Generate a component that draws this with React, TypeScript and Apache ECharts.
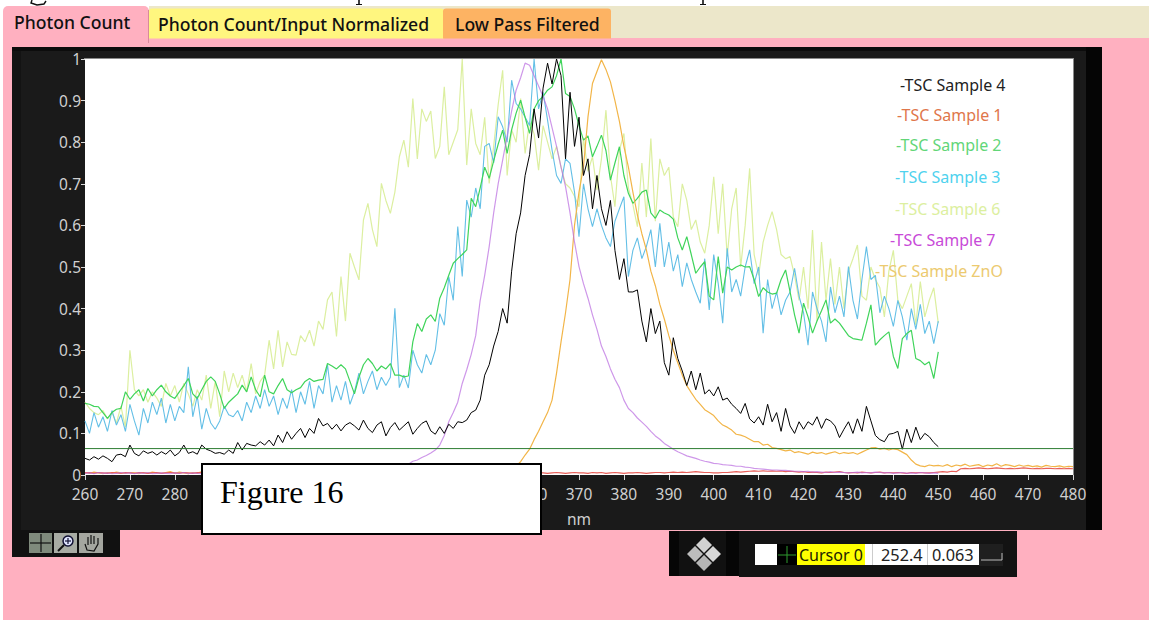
import React, { useEffect, useRef } from "react";
import * as echarts from "echarts";

const W = 1149;
const H = 620;

// Tick labels 290 to 350 are covered by the "Figure 16" box in the picture.
const xTickLabels = ["260", "270", "280", "", "", "", "", "", "", "", "360", "370", "380", "390", "400", "410", "420", "430", "440", "450", "460", "470", "480"];
const yTickLabels = ["0", "0.1", "0.2", "0.3", "0.4", "0.5", "0.6", "0.7", "0.8", "0.9", "1"];
const tabLabels = ["Photon Count", "Photon Count/Input Normalized", "Low Pass Filtered"];
const cursorValues = ["Cursor 0", "252.4", "0.063"];
const cursorLevel = 0.0635;
const startNm = 260;

// All series at 1 nm steps, beginning at 260 nm.
const sample4 = [
  .040, .036, .044, .038, .046, .040, .032, .048, .050, .044,
  .072, .052, .046, .058, .052, .056, .048, .056, .050, .060,
  .046, .054, .072, .052, .056, .050, .072, .062, .058, .052,
  .054, .050, .060, .052, .078, .060, .076, .072, .070, .080,
  .072, .084, .070, .096, .078, .104, .086, .100, .112, .090,
  .112, .100, .136, .118, .124, .110, .122, .106, .120, .126,
  .118, .108, .132, .112, .102, .120, .128, .094, .114, .126,
  .108, .118, .128, .098, .112, .124, .130, .106, .098, .116,
  .100, .122, .112, .128, .126, .132, .150, .156, .180, .240,
  .265, .310, .345, .400, .365, .490, .580, .630, .720, .770,
  .880, .810, .930, .990, .940, 1.00, .960, .760, .920, .790,
  .860, .720, .760, .640, .720, .640, .600, .660, .540, .470,
  .520, .440, .440, .445, .370, .320, .400, .340, .370, .270,
  .240, .330, .280, .250, .215, .250, .205, .245, .195, .205,
  .190, .212, .180, .185, .170, .160, .148, .172, .135, .125,
  .140, .120, .170, .128, .150, .105, .160, .118, .100, .128,
  .110, .128, .120, .140, .112, .135, .130, .118, .090, .110,
  .128, .100, .135, .105, .165, .130, .095, .085, .080, .098,
  .100, .105, .062, .110, .078, .115, .085, .100, .092, .078, .068,
];

const sample2 = [
  .172, .170, .165, .164, .150, .136, .150, .158, .160, .200,
  .182, .195, .205, .178, .208, .190, .205, .216, .200, .190,
  .184, .200, .215, .232, .195, .184, .205, .225, .236, .225,
  .195, .160, .175, .185, .195, .216, .200, .236, .205, .188,
  .240, .200, .195, .215, .232, .205, .198, .205, .210, .225,
  .232, .225, .228, .230, .268, .262, .255, .265, .255, .225,
  .195, .235, .265, .280, .268, .250, .262, .255, .268, .240,
  .240, .236, .238, .320, .364, .345, .375, .385, .369, .425,
  .450, .480, .509, .520, .530, .541, .665, .645, .690, .740,
  .713, .755, .795, .829, .773, .830, .870, .901, .860, .821,
  .880, .900, .910, .925, .933, .960, 1.00, .917, .910, .880,
  .840, .805, .815, .765, .790, .817, .780, .709, .750, .789,
  .720, .677, .653, .665, .680, .685, .630, .617, .637, .630,
  .625, .615, .570, .541, .573, .530, .485, .500, .513, .430,
  .421, .525, .437, .500, .493, .500, .505, .500, .501, .470,
  .429, .450, .440, .435, .437, .470, .493, .440, .385, .341,
  .413, .380, .341, .370, .395, .421, .365, .375, .365, .350,
  .335, .328, .326, .324, .365, .409, .312, .325, .335, .344,
  .285, .256, .328, .340, .348, .280, .275, .265, .272, .232, .296,
];

const sample3 = [
  .130, .100, .150, .115, .140, .105, .155, .120, .145, .105,
  .170, .130, .096, .160, .125, .175, .145, .185, .125, .170,
  .130, .165, .150, .260, .140, .190, .110, .160, .125, .110,
  .130, .165, .145, .140, .155, .130, .175, .150, .190, .160,
  .205, .165, .190, .145, .185, .160, .205, .150, .200, .170,
  .225, .160, .215, .195, .265, .175, .215, .180, .225, .170,
  .200, .245, .195, .225, .250, .205, .235, .215, .235, .401,
  .210, .240, .209, .300, .265, .245, .290, .265, .300, .388,
  .360, .477, .420, .597, .477, .661, .620, .690, .640, .790,
  .797, .750, .861, .837, .800, .949, .893, .880, .860, .840,
  1.00, .880, .920, .853, .781, .720, .701, .760, .749, .680,
  .573, .700, .640, .597, .640, .600, .570, .549, .610, .640,
  .669, .477, .540, .570, .520, .549, .590, .500, .605, .500,
  .560, .490, .530, .453, .510, .470, .440, .413, .520, .397,
  .530, .460, .365, .545, .440, .470, .430, .500, .541, .460,
  .500, .341, .470, .400, .440, .385, .420, .440, .497, .430,
  .390, .312, .440, .400, .370, .320, .452, .390, .430, .380,
  .501, .420, .375, .470, .549, .470, .480, .390, .430, .400,
  .357, .420, .380, .324, .400, .350, .410, .340, .370, .316, .370,
];

const sample6 = [
  .175, .160, .150, .145, .155, .135, .150, .125, .165, .115,
  .300, .205, .190, .205, .175, .200, .185, .165, .220, .190,
  .215, .175, .220, .195, .165, .205, .180, .240, .160, .225,
  .140, .250, .200, .245, .210, .240, .200, .268, .195, .225,
  .240, .324, .255, .348, .260, .320, .290, .288, .335, .320,
  .348, .310, .370, .350, .421, .440, .333, .477, .370, .533,
  .500, .469, .613, .653, .590, .549, .701, .660, .629, .680,
  .765, .805, .740, .905, .760, .880, .850, .875, .761, .790,
  .933, .770, .800, .830, 1.00, .745, .880, .797, .770, .860,
  .701, .790, .890, .973, .720, .830, .800, .905, .773, .850,
  .820, .733, .840, .800, .760, .790, .740, .700, .690, .670,
  .645, .810, .730, .765, .685, .760, .877, .720, .645, .780,
  .821, .690, .650, .597, .750, .620, .809, .610, .760, .720,
  .740, .620, .597, .700, .660, .590, .613, .560, .533, .600,
  .717, .580, .700, .525, .640, .690, .500, .600, .737, .530,
  .480, .560, .600, .633, .590, .530, .520, .525, .480, .420,
  .500, .400, .589, .370, .560, .420, .520, .410, .500, .400,
  .490, .520, .553, .430, .420, .500, .470, .450, .380, .490,
  .540, .420, .400, .430, .460, .360, .465, .380, .420, .450, .365,
];

const sample7 = [
  .004, .005, .003, .006, .004, .005, .003, .004, .006, .004,
  .005, .003, .005, .004, .006, .003, .004, .005, .004, .003,
  .005, .004, .006, .003, .005, .004, .003, .005, .004, .006,
  .003, .004, .005, .003, .004, .005, .004, .003, .005, .004,
  .003, .004, .005, .003, .004, .003, .004, .005, .003, .004,
  .003, .004, .003, .005, .003, .004, .003, .004, .003, .004,
  .003, .004, .004, .005, .005, .005, .006, .007, .010, .013,
  .016, .020, .026, .033, .036, .042, .047, .053, .060, .072,
  .095, .128, .150, .175, .220, .253, .290, .335, .420, .480,
  .549, .630, .700, .757, .815, .875, .925, .955, .990, .985,
  .960, .935, .910, .880, .835, .790, .740, .693, .630, .560,
  .501, .460, .425, .385, .350, .310, .285, .255, .230, .210,
  .180, .160, .150, .137, .127, .117, .105, .094, .086, .076,
  .069, .062, .056, .051, .046, .043, .040, .036, .033, .031,
  .028, .027, .025, .024, .023, .021, .021, .019, .018, .016,
  .015, .014, .013, .012, .012, .011, .011, .010, .009, .009,
  .008, .009, .007, .008, .007, .006, .008, .006, .007, .006,
  .005, .006, .007, .005, .006, .005, .007, .006, .005, .006,
  .004, .005, .006, .004, .005, .004, .006, .005, .004, .005, .004,
];

const sampleZnO = [
  .006, .004, .007, .005, .003, .006, .004, .007, .005, .004,
  .006, .005, .003, .006, .004, .007, .005, .004, .006, .008,
  .004, .007, .005, .003, .006, .004, .008, .005, .003, .006,
  .004, .007, .005, .004, .006, .003, .005, .004, .006, .004,
  .005, .003, .006, .004, .005, .003, .006, .004, .005, .003,
  .005, .004, .006, .003, .005, .004, .006, .003, .005, .004,
  .003, .005, .004, .006, .003, .005, .004, .003, .005, .004,
  .003, .004, .005, .003, .004, .003, .005, .004, .003, .005,
  .004, .003, .005, .004, .005, .003, .005, .004, .005, .005,
  .006, .006, .008, .010, .012, .016, .022, .032, .048, .062,
  .085, .105, .128, .150, .180, .245, .320, .390, .470, .600,
  .680, .741, .861, .941, .970, .998, .975, .945, .900, .850,
  .790, .740, .680, .625, .580, .541, .490, .455, .410, .375,
  .335, .300, .270, .240, .215, .198, .182, .170, .157, .150,
  .143, .130, .120, .115, .108, .098, .096, .092, .086, .080,
  .080, .072, .074, .066, .064, .061, .058, .060, .054, .056,
  .053, .050, .055, .052, .054, .050, .053, .056, .051, .054,
  .052, .054, .050, .055, .060, .065, .066, .062, .064, .060,
  .063, .061, .055, .049, .036, .026, .022, .020, .024, .022,
  .023, .021, .025, .020, .024, .022, .026, .021, .023, .025,
  .020, .024, .022, .027, .021, .025, .023, .020, .024, .021,
  .023, .020, .022, .019, .023, .021, .020, .022, .019, .021, .020,
];

const sample1 = [
  .005, .006, .004, .006, .005, .004, .006, .005, .004, .006,
  .005, .004, .006, .005, .004, .005, .006, .004, .005, .006,
  .005, .004, .006, .005, .004, .006, .005, .004, .005, .006,
  .005, .004, .005, .006, .004, .005, .006, .005, .004, .005,
  .005, .004, .006, .005, .004, .005, .006, .004, .005, .005,
  .004, .006, .005, .004, .005, .006, .005, .004, .005, .006,
  .005, .004, .005, .006, .005, .004, .005, .006, .005, .004,
  .005, .006, .005, .004, .005, .005, .006, .005, .004, .005,
  .006, .005, .004, .005, .006, .005, .004, .005, .006, .005,
  .004, .005, .006, .005, .005, .004, .005, .006, .005, .004,
  .005, .006, .005, .004, .005, .006, .005, .004, .005, .006,
  .005, .005, .004, .006, .005, .006, .004, .005, .006, .005,
  .004, .005, .005, .006, .005, .004, .005, .006, .006, .005,
  .006, .007, .006, .007, .006, .007, .008, .007, .006, .006,
  .005, .005, .006, .006, .007, .008, .007, .008, .009, .010,
  .009, .010, .009, .010, .009, .010, .008, .009, .008, .007,
  .008, .006, .007, .006, .005, .007, .006, .007, .008, .006,
  .005, .006, .005, .007, .006, .005, .006, .007, .005, .006,
  .005, .006, .005, .004, .006, .005, .006, .005, .005, .006,
  .007, .008, .007, .009, .008, .015, .016, .015, .016, .017,
  .016, .015, .016, .017, .016, .015, .016, .015, .016, .017,
  .016, .015, .016, .015, .016, .016, .015, .016, .015, .016, .015,
];

const seriesTable: [string, number[], string, number, number][] = [
  ["TSC Sample 6", sample6, "#dcefa0", 1.2, 1],
  ["TSC Sample 3", sample3, "#63bfe6", 1.1, 1],
  ["TSC Sample 2", sample2, "#3fd45a", 1.2, 1],
  ["TSC Sample ZnO", sampleZnO, "#f2b548", 1.2, 1],
  ["TSC Sample 1", sample1, "#e8605a", 1.2, 1],
  ["TSC Sample 7", sample7, "#bb6fe0", 1.2, 0.72],
  ["TSC Sample 4", sample4, "#000000", 1, 1],
];

const legendLines: [string, string, number, number][] = [
  ["-TSC Sample 4", "#222222", 900, 85],
  ["-TSC Sample 1", "#e0764a", 897, 115],
  ["-TSC Sample 2", "#62d678", 896, 145],
  ["-TSC Sample 3", "#4fd2ee", 895, 177],
  ["-TSC Sample 6", "#dcefa0", 895, 209],
  ["-TSC Sample 7", "#c84ad8", 890, 240],
  ["-TSC Sample ZnO", "#ecca70", 875, 271],
];

const PINK = "#ffb0c0";
const PANEL = "#1a1a1a";
const UI_FONT = "'Noto Sans', sans-serif";
const TICK_COLOR = "#d0d0d0";

function rect(x: number, y: number, w: number, h: number, fill: string, extra: any = {}) {
  return { type: "rect", silent: true, shape: { x, y, width: w, height: h, ...(extra.shape || {}) }, style: { fill, ...(extra.style || {}) }, z: extra.z ?? 0 };
}
function label(text: string, x: number, y: number, fill: string, fontSize: number, extra: any = {}) {
  return { type: "text", silent: true, x, y, z: extra.z ?? 5, style: { text, fill, fontSize, fontFamily: extra.fontFamily || UI_FONT, fontWeight: extra.fontWeight || "normal", textAlign: extra.textAlign || "left", textVerticalAlign: "middle", textBaseline: "middle" } };
}
function seg(points: number[][], stroke: string, lineWidth: number, z = 6) {
  return { type: "polyline", silent: true, z, shape: { points }, style: { stroke, lineWidth, fill: "none" } };
}

function chrome(): any[] {
  const out: any[] = [
    // page
    rect(0, 0, W, H, "#ffffff"),
    rect(3, 38, W - 3, H - 38, PINK),
    rect(149, 6, W - 149, 32, "#ece7ca"),
    rect(3, 6, 146, 40, PINK, { shape: { r: [5, 5, 0, 0] } }),
    rect(149, 8.5, 295, 30, "#fff67f", { shape: { r: [3, 3, 0, 0] } }),
    rect(443, 8.5, 168, 30, "#fdb363", { shape: { r: [3, 3, 0, 0] } }),
    seg([[148.5, 10], [148.5, 43]], "#d98a9b", 1),
    label(tabLabels[0], 14, 21.5, "#111111", 17.6, { fontWeight: 500 }),
    label(tabLabels[1], 158, 24, "#111111", 17.6, { fontWeight: 500 }),
    label(tabLabels[2], 455, 24, "#111111", 17.6, { fontWeight: 500 }),
    // descenders of a clipped line of text above the tabs
    seg([[32, 0], [31, 3], [37, 5], [44, 4], [46, 1]], "#111111", 1.4),
    seg([[359, 0], [359, 4]], "#111111", 1.6),
    seg([[356, 4.5], [362, 4.5]], "#111111", 1),
    seg([[703, 0], [703, 4]], "#111111", 1.6),
    seg([[700, 4.5], [706, 4.5]], "#111111", 1),

    // graph panel
    rect(12, 47, 1090, 483, PANEL, { z: 0 }),
    rect(12, 47, 9, 483, "#131313", { z: 0 }),
    rect(12, 47, 1090, 4, "#0c0c0c", { z: 0 }),
    rect(1086, 47, 16, 483, "#050505", { z: 0 }),
    rect(85, 59, 988, 416, "#ffffff", { z: 0 }),
    rect(84, 58, 990, 1, "#8a8a8a", { z: 0 }),
    rect(1073, 58, 1, 418, "#8a8a8a", { z: 0 }),

    // figure label box over the plot
    rect(202, 464, 339, 70, "#ffffff", { z: 20, style: { stroke: "#000000", lineWidth: 2 } }),
    label("Figure 16", 220, 492, "#000000", 32, { fontFamily: "'Liberation Serif', serif", z: 21 }),

    // plot tool palette
    rect(12, 530, 108, 27, "#111111"),
    rect(29, 533, 23, 20, "#7f8a7c"),
    rect(54, 533, 23, 20, "#a8aca4"),
    rect(79, 533, 24, 20, "#a4a69f"),
    seg([[30, 543], [51, 543]], "#111111", 1.2),
    seg([[41, 534], [41, 552]], "#111111", 1.2),
    { type: "circle", silent: true, z: 6, shape: { cx: 68, cy: 541, r: 5 }, style: { fill: "#dfe4ff", stroke: "#111133", lineWidth: 1.5 } },
    seg([[64, 545], [58, 551]], "#111111", 2),
    seg([[65, 541], [71, 541]], "#111133", 1.2),
    seg([[68, 538], [68, 544]], "#111133", 1.2),
    seg([[85, 544], [87, 550], [94, 551], [98, 544], [98, 538]], "#111111", 1.2),
    seg([[88, 545], [88, 537]], "#111111", 1.2),
    seg([[91, 544], [91, 535]], "#111111", 1.2),
    seg([[94, 544], [94, 536]], "#111111", 1.2),

    // cursor legend
    rect(669, 531, 72, 45, "#111111"),
    rect(739, 531, 278, 46, "#131313"),
    rect(669, 531, 10, 45, "#060606"),
    rect(726, 531, 13, 45, "#060606"),
    rect(755, 544, 224, 21, "#ffffff"),
    rect(777, 544, 20, 21, "#000000", { z: 1 }),
    rect(797, 544, 68, 21, "#ffff00", { z: 1 }),
    rect(872, 544, 1, 21, "#cccccc", { z: 1 }),
    rect(927, 544, 1, 21, "#cccccc", { z: 1 }),
    rect(979, 544, 24, 22, "#1f1f1f"),
    seg([[981, 560], [1002, 560], [1002, 553]], "#bbbbbb", 1),
    seg([[778, 555], [796, 555]], "#2f9a2f", 1),
    seg([[787, 546], [787, 563]], "#2f9a2f", 1),
    label(cursorValues[0], 799, 555, "#222200", 16),
    label(cursorValues[1], 881, 555, "#222222", 16.3),
    label(cursorValues[2], 932, 555, "#222222", 16.3),
  ];
  // cursor mover diamonds
  const diamonds: [number, number, string][] = [[704, 545, "#d2d2d2"], [695, 554, "#bdbdbd"], [713, 554, "#d6d6d6"], [704, 563, "#b5b5b5"]];
  for (const [cx, cy, fill] of diamonds) {
    out.push({ type: "polygon", silent: true, z: 6, shape: { points: [[cx, cy - 8], [cx + 8, cy], [cx, cy + 8], [cx - 8, cy]] }, style: { fill } });
  }
  return out;
}

export default function App() {
  const ref = useRef<HTMLDivElement>(null);
  useEffect(() => {
    document.body.style.margin = "0";
    const chart = echarts.init(ref.current!, undefined, { renderer: "svg" });
    const legendGraphics = legendLines.map(([t, c, x, y]) => label(t, x, y, c, 16, { z: 12 }));
    chart.setOption({
      animation: false,
      backgroundColor: "transparent",
      grid: { left: 85, top: 59, width: 988, height: 416, containLabel: false },
      xAxis: {
        type: "value",
        min: 260,
        max: 480,
        interval: 10,
        name: "nm",
        nameLocation: "middle",
        nameGap: 36,
        nameTextStyle: { color: TICK_COLOR, fontSize: 15.5, fontFamily: UI_FONT },
        axisLine: { show: false },
        axisTick: { show: true, length: 5, lineStyle: { color: "#d8d8d8", width: 1 } },
        axisLabel: { color: TICK_COLOR, fontSize: 15.5, fontFamily: UI_FONT, margin: 11, showMinLabel: true, showMaxLabel: true, formatter: (v: number) => xTickLabels[Math.round((v - 260) / 10)] },
        splitLine: { show: false },
      },
      yAxis: {
        type: "value",
        min: 0,
        max: 1,
        interval: 0.1,
        axisLine: { show: false },
        axisTick: { show: true, length: 4, lineStyle: { color: "#d8d8d8", width: 1 } },
        axisLabel: { color: TICK_COLOR, fontSize: 15.5, fontFamily: UI_FONT, margin: 4, formatter: (v: number) => yTickLabels[Math.round(v * 10)] },
        splitLine: { show: false },
      },
      series: [
        ...seriesTable.map(([name, values, color, width, opacity], si) => ({
          name,
          type: "line",
          z: 3 + si,
          showSymbol: false,
          symbol: "none",
          clip: true,
          lineStyle: { color, width, opacity },
          data: values.map((v, i) => [startNm + i, v]),
        })),
        {
          name: "Cursor 0",
          type: "line",
          z: 10,
          symbol: "none",
          lineStyle: { color: "#2e7d32", width: 1 },
          data: [[260, cursorLevel], [480, cursorLevel]],
        },
      ],
      graphic: { elements: [...chrome(), ...legendGraphics] },
    });
    return () => chart.dispose();
  }, []);
  return <div ref={ref} style={{ width: W, height: H }} />;
}
